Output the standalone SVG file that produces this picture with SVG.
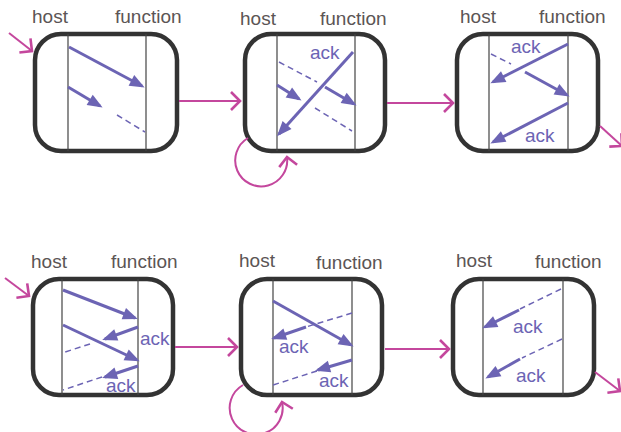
<svg xmlns="http://www.w3.org/2000/svg" width="621" height="432" viewBox="0 0 621 432">
  <defs>
    <marker id="head" markerUnits="userSpaceOnUse" markerWidth="16" markerHeight="14" viewBox="0 0 16 14" refX="12" refY="6" orient="auto" overflow="visible">
      <path d="M0,0 L15,6 L0,12 z" fill="#6c64b4"/>
    </marker>
    <marker id="chev" markerUnits="userSpaceOnUse" markerWidth="20" markerHeight="20" viewBox="0 0 20 20" refX="10" refY="10" orient="auto" overflow="visible">
      <path d="M1,1 L10,10 L1,19" fill="none" stroke="#c4479d" stroke-width="2.6"/>
    </marker>
  </defs>
  <style>
    .box { fill: #ffffff; stroke: #333333; stroke-width: 4.5; }
    .life { stroke: #444444; stroke-width: 1.2; }
    .lbl { font-family: "Liberation Sans", Arial, sans-serif; font-size: 19px; fill: #5b5555; }
    .ack { font-family: "Liberation Sans", Arial, sans-serif; font-size: 19px; fill: #6c64b4; }
    .msg { stroke: #6c64b4; stroke-width: 3; fill: none; marker-end: url(#head); }
    .lost { stroke: #6c64b4; stroke-width: 1.5; fill: none; stroke-dasharray: 6 4; }
    .flow { stroke: #c4479d; stroke-width: 2; fill: none; marker-end: url(#chev); }
  </style>

  <!-- state 1 -->
  <g id="state1">
    <rect class="box" x="35" y="34" width="142" height="117" rx="26"/>
    <line class="life" x1="68" y1="34" x2="68" y2="151"/>
    <line class="life" x1="146" y1="34" x2="146" y2="151"/>
    <text class="lbl" x="32" y="23">host</text>
    <text class="lbl" x="115" y="23">function</text>
    <line class="msg" x1="69" y1="47" x2="142" y2="86"/>
    <line class="msg" x1="68" y1="87" x2="100" y2="106"/>
    <line class="lost" x1="117" y1="115" x2="145" y2="132"/>
  </g>

  <!-- state 2 -->
  <g id="state2">
    <rect class="box" x="245" y="34" width="140" height="117" rx="26"/>
    <line class="life" x1="277" y1="34" x2="277" y2="151"/>
    <line class="life" x1="355" y1="34" x2="355" y2="151"/>
    <text class="lbl" x="240" y="25">host</text>
    <text class="lbl" x="320" y="25">function</text>
    <text class="ack" x="310" y="59">ack</text>
    <line class="lost" x1="279" y1="62" x2="317" y2="82"/>
    <line class="msg" x1="325" y1="87" x2="354" y2="104"/>
    <line class="msg" x1="277" y1="85" x2="299" y2="99"/>
    <line class="lost" x1="315" y1="108" x2="352" y2="131"/>
    <line class="msg" x1="353" y1="52" x2="279" y2="134"/>
  </g>

  <!-- state 3 -->
  <g id="state3">
    <rect class="box" x="457" y="34" width="141" height="117" rx="26"/>
    <line class="life" x1="489" y1="34" x2="489" y2="151"/>
    <line class="life" x1="568" y1="34" x2="568" y2="151"/>
    <text class="lbl" x="460" y="23">host</text>
    <text class="lbl" x="539" y="23">function</text>
    <text class="ack" x="511" y="53">ack</text>
    <line class="msg" x1="568" y1="44" x2="493" y2="82"/>
    <line class="lost" x1="491" y1="54" x2="511" y2="64"/>
    <line class="msg" x1="525" y1="72" x2="567" y2="95"/>
    <line class="msg" x1="568" y1="103" x2="493" y2="142"/>
    <text class="ack" x="525" y="142">ack</text>
  </g>

  <!-- state 4 -->
  <g id="state4">
    <rect class="box" x="33" y="279" width="140" height="116" rx="26"/>
    <line class="life" x1="62" y1="279" x2="62" y2="395"/>
    <line class="life" x1="138" y1="279" x2="138" y2="395"/>
    <text class="lbl" x="31" y="268">host</text>
    <text class="lbl" x="111" y="268">function</text>
    <line class="msg" x1="63" y1="290" x2="135" y2="318"/>
    <line class="msg" x1="138" y1="327" x2="105" y2="339"/>
    <line class="lost" x1="90" y1="344" x2="65" y2="352"/>
    <line class="msg" x1="63" y1="325" x2="137" y2="360"/>
    <text class="ack" x="140" y="345">ack</text>
    <line class="msg" x1="138" y1="366" x2="105" y2="377"/>
    <line class="lost" x1="102" y1="377" x2="63" y2="390"/>
    <text class="ack" x="106" y="392">ack</text>
  </g>

  <!-- state 5 -->
  <g id="state5">
    <rect class="box" x="241" y="279" width="141" height="116" rx="26"/>
    <line class="life" x1="273" y1="279" x2="273" y2="395"/>
    <line class="life" x1="352" y1="279" x2="352" y2="395"/>
    <text class="lbl" x="239" y="267">host</text>
    <text class="lbl" x="316" y="269">function</text>
    <line class="msg" x1="273" y1="301" x2="351" y2="345"/>
    <line class="lost" x1="352" y1="313" x2="306" y2="327"/>
    <line class="msg" x1="306" y1="327" x2="274" y2="338"/>
    <text class="ack" x="279" y="353">ack</text>
    <line class="msg" x1="352" y1="360" x2="318" y2="370"/>
    <line class="lost" x1="317" y1="371" x2="273" y2="385"/>
    <text class="ack" x="319" y="387">ack</text>
  </g>

  <!-- state 6 -->
  <g id="state6">
    <rect class="box" x="453" y="279" width="141" height="116" rx="26"/>
    <line class="life" x1="483" y1="279" x2="483" y2="395"/>
    <line class="life" x1="563" y1="279" x2="563" y2="395"/>
    <text class="lbl" x="456" y="267">host</text>
    <text class="lbl" x="535" y="268">function</text>
    <line class="lost" x1="561" y1="289" x2="520" y2="309"/>
    <line class="msg" x1="519" y1="310" x2="485" y2="327"/>
    <text class="ack" x="513" y="333">ack</text>
    <line class="lost" x1="562" y1="339" x2="522" y2="358"/>
    <line class="msg" x1="520" y1="359" x2="488" y2="377"/>
    <text class="ack" x="516" y="382">ack</text>
  </g>

  <!-- transitions between states -->
  <g id="transitions">
    <line class="flow" x1="9" y1="33" x2="32" y2="51"/>
    <line class="flow" x1="179" y1="101" x2="240" y2="101"/>
    <path class="flow" d="M248,138 A26,26 0 1 0 287,157"/>
    <line class="flow" x1="387" y1="103" x2="453" y2="103"/>
    <line class="flow" x1="600" y1="126" x2="622" y2="146"/>

    <line class="flow" x1="5" y1="278" x2="29" y2="296"/>
    <line class="flow" x1="175" y1="347" x2="237" y2="347"/>
    <path class="flow" d="M243,385 A26.5,26.5 0 1 0 282,402"/>
    <line class="flow" x1="385" y1="349" x2="449" y2="349"/>
    <line class="flow" x1="595" y1="372" x2="620" y2="391"/>
  </g>
</svg>
